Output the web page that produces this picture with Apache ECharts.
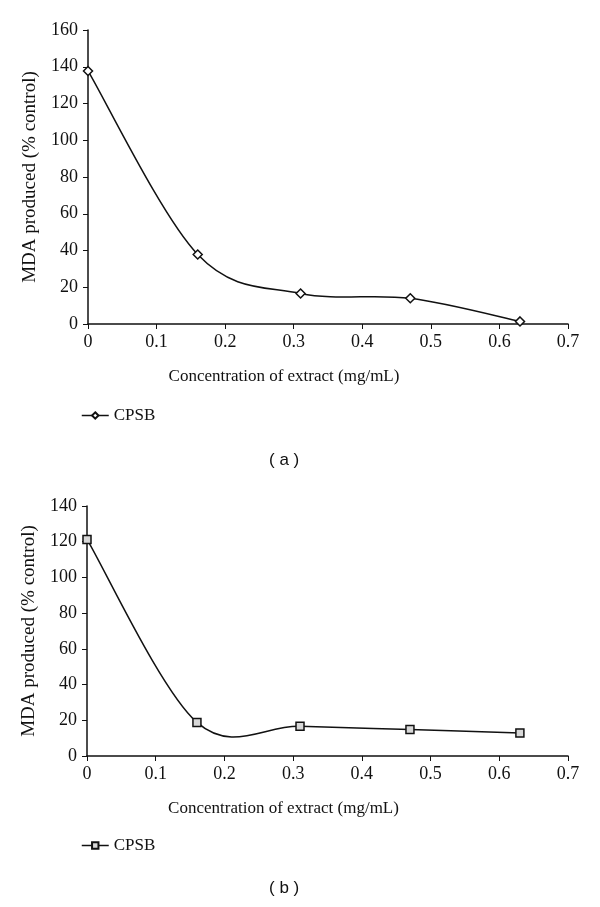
<!DOCTYPE html>
<html>
<head>
<meta charset="utf-8">
<script src="https://cdn.jsdelivr.net/npm/echarts@6/dist/echarts.min.js"></script>
<style>html,body{margin:0;padding:0;background:#fff}#c{width:600px;height:907px}</style>
</head>
<body>
<div id="c"></div>
<script>
var concA = [0, 0.16, 0.31, 0.47, 0.63];
var mdaA = [137.7, 37.8, 16.6, 14.0, 1.4];
var concB = [0, 0.16, 0.31, 0.47, 0.63];
var mdaB = [121.3, 18.8, 16.6, 14.9, 12.9];
var xTicks = [0, 0.1, 0.2, 0.3, 0.4, 0.5, 0.6, 0.7];
var seriesName = 'CPSB';
var xTitle = 'Concentration of extract (mg/mL)';
var yTitle = 'MDA produced (% control)';
var panelLabels = ['( a )', '( b )'];

function pairs(xs, ys){ return xs.map(function(x,i){ return [x, ys[i]]; }); }

var serif = '"Liberation Serif","DejaVu Serif",serif';
function xAxis(idx){
  return {
    gridIndex: idx, type: 'value', min: xTicks[0], max: xTicks[xTicks.length-1], interval: 0.1,
    name: xTitle, nameLocation: 'middle', nameGap: 44,
    nameTextStyle: {fontFamily: serif, fontSize: 17, color: '#111', padding: [0, 88, 0, 0]},
    axisLine: {lineStyle: {color: '#111', width: 1.5}},
    axisTick: {show: true, inside: false, length: 5, lineStyle: {color: '#111', width: 1}},
    axisLabel: {fontFamily: serif, fontSize: 18, color: '#111', margin: 9,
      formatter: function(v){ return String(+v.toFixed(1)); }},
    splitLine: {show: false}
  };
}
function yAxis(idx, max){
  return {
    gridIndex: idx, type: 'value', min: 0, max: max, interval: 20,
    name: yTitle, nameLocation: 'middle', nameGap: 48, nameRotate: 90,
    nameTextStyle: {fontFamily: serif, fontSize: 19, color: '#111'},
    axisLine: {show: true, lineStyle: {color: '#111', width: 1.5}},
    axisTick: {show: true, inside: false, length: 5, lineStyle: {color: '#111', width: 1}},
    axisLabel: {fontFamily: serif, fontSize: 18, color: '#111', margin: 10},
    splitLine: {show: false}
  };
}

// Smoothed (Catmull-Rom / spreadsheet-style) curve drawn through the axes' scales
function curveSeries(idx, xs, ys){
  return {
    type: 'custom', xAxisIndex: idx, yAxisIndex: idx, clip: false, silent: true, z: 2,
    data: pairs(xs, ys),
    renderItem: function(params, api){
      if (params.dataIndex !== 0) return null;
      var p = xs.map(function(x, i){ return api.coord([x, ys[i]]); });
      var n = p.length;
      var d = 'M' + p[0][0] + ' ' + p[0][1];
      for (var i = 0; i < n - 1; i++) {
        var p0 = p[Math.max(i - 1, 0)], p1 = p[i], p2 = p[i + 1], p3 = p[Math.min(i + 2, n - 1)];
        var c1x = p1[0] + (p2[0] - p0[0]) / 6, c1y = p1[1] + (p2[1] - p0[1]) / 6;
        var c2x = p2[0] - (p3[0] - p1[0]) / 6, c2y = p2[1] - (p3[1] - p1[1]) / 6;
        d += ' C' + c1x + ' ' + c1y + ' ' + c2x + ' ' + c2y + ' ' + p2[0] + ' ' + p2[1];
      }
      return {type: 'path', shape: {pathData: d}, style: {fill: 'none', stroke: '#111', lineWidth: 1.5}};
    }
  };
}

var legendCommon = {itemWidth: 27, itemHeight: 8, itemGap: 10,
  formatter: function(){ return seriesName; },
  lineStyle: {color: '#111', width: 1.5, opacity: 1},
  textStyle: {fontFamily: serif, fontSize: 17, color: '#111'}};

var chart = echarts.init(document.getElementById('c'), null, {renderer: 'canvas'});
chart.setOption({
  animation: false,
  backgroundColor: '#fff',
  grid: [
    {left: 88, top: 30, width: 480, height: 294},
    {left: 87, top: 506, width: 481, height: 250}
  ],
  xAxis: [xAxis(0), xAxis(1)],
  yAxis: [yAxis(0, 160), yAxis(1, 140)],
  legend: [
    Object.assign({data: [seriesName + ' a'], left: 76, top: 402}, legendCommon),
    Object.assign({data: [seriesName + ' b'], left: 76, top: 832}, legendCommon)
  ],
  series: [
    curveSeries(0, concA, mdaA),
    curveSeries(1, concB, mdaB),
    {name: seriesName + ' a', type: 'line', xAxisIndex: 0, yAxisIndex: 0, z: 3,
     data: pairs(concA, mdaA),
     symbol: 'diamond', symbolSize: 9, showSymbol: true,
     lineStyle: {color: '#111', width: 0, opacity: 0},
     itemStyle: {color: '#fff', borderColor: '#111', borderWidth: 1.5}},
    {name: seriesName + ' b', type: 'line', xAxisIndex: 1, yAxisIndex: 1, z: 3,
     data: pairs(concB, mdaB),
     symbol: 'rect', symbolSize: 8, showSymbol: true,
     lineStyle: {color: '#111', width: 0, opacity: 0},
     itemStyle: {color: '#d8d8d8', borderColor: '#111', borderWidth: 1.5}}
  ],
  graphic: [
    {type: 'text', left: 269, top: 452, style: {text: panelLabels[0], font: '17px "Liberation Sans", Arial, sans-serif', fill: '#111'}},
    {type: 'text', left: 269, top: 880, style: {text: panelLabels[1], font: '17px "Liberation Sans", Arial, sans-serif', fill: '#111'}}
  ]
});
</script>
</body>
</html>
